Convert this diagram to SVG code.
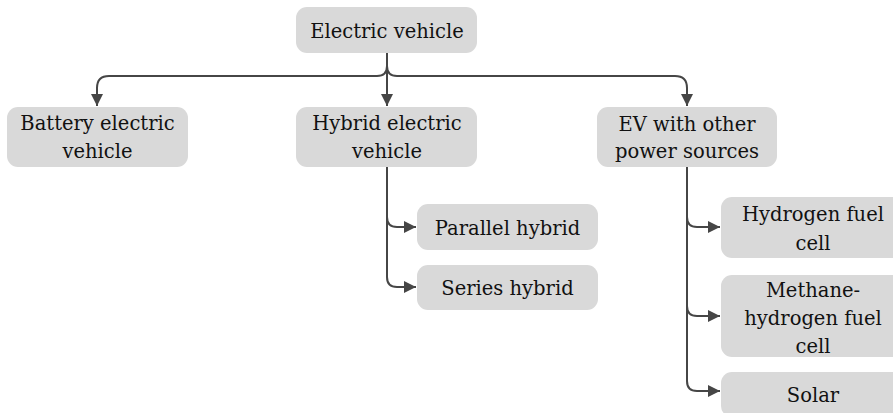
<svg xmlns="http://www.w3.org/2000/svg" width="893" height="413" viewBox="0 0 893 413">
<defs>
<style>
.box{fill:#d9d9d9;}
.t{font-family:"DejaVu Serif","Liberation Serif",serif;font-size:19.5px;fill:#111111;text-anchor:middle;}
.c{fill:none;stroke:#464646;stroke-width:2;}
</style>
<marker id="ah" markerUnits="userSpaceOnUse" markerWidth="14" markerHeight="14" viewBox="0 0 14 14" refX="12" refY="7" orient="auto">
<path d="M0,1 L12,7 L0,13 Z" fill="#464646"/>
</marker>
</defs>
<rect width="893" height="413" fill="#ffffff"/>
<g id="connectors">
<path class="c" d="M387,53 V106" marker-end="url(#ah)"/>
<path class="c" d="M387,53 V66 Q387,76 377,76 H109 Q97,76 97,88 V106" marker-end="url(#ah)"/>
<path class="c" d="M387,53 V66 Q387,76 397,76 H675 Q687,76 687,88 V106" marker-end="url(#ah)"/>
<path class="c" d="M387,167 V217 Q387,227 397,227 H416" marker-end="url(#ah)"/>
<path class="c" d="M387,167 V277 Q387,287 397,287 H416" marker-end="url(#ah)"/>
<path class="c" d="M687,167 V217 Q687,227 697,227 H720" marker-end="url(#ah)"/>
<path class="c" d="M687,167 V306 Q687,316 697,316 H720" marker-end="url(#ah)"/>
<path class="c" d="M687,167 V381 Q687,391 697,391 H720" marker-end="url(#ah)"/>
</g>
<g id="root">
<rect class="box" x="296" y="7" width="181" height="46" rx="11"/>
<text class="t" x="387" y="38">Electric vehicle</text>
</g>
<g id="bev">
<rect class="box" x="7" y="107" width="181" height="60" rx="11"/>
<text class="t" x="97.5" y="130">Battery electric</text>
<text class="t" x="97.5" y="158">vehicle</text>
</g>
<g id="hev">
<rect class="box" x="296" y="107" width="181" height="60" rx="11"/>
<text class="t" x="387" y="130">Hybrid electric</text>
<text class="t" x="387" y="158">vehicle</text>
</g>
<g id="other">
<rect class="box" x="597" y="107" width="180" height="60" rx="11"/>
<text class="t" x="687" y="131">EV with other</text>
<text class="t" x="687" y="158">power sources</text>
</g>
<g id="parallel">
<rect class="box" x="417" y="204" width="181" height="46" rx="11"/>
<text class="t" x="507.5" y="235">Parallel hybrid</text>
</g>
<g id="series">
<rect class="box" x="417" y="265" width="181" height="45" rx="11"/>
<text class="t" x="507.5" y="295">Series hybrid</text>
</g>
<g id="hydrogen">
<rect class="box" x="721" y="197" width="184" height="61" rx="11"/>
<text class="t" x="813" y="221">Hydrogen fuel</text>
<text class="t" x="813" y="250">cell</text>
</g>
<g id="methane">
<rect class="box" x="721" y="275" width="184" height="82" rx="11"/>
<text class="t" x="813" y="297">Methane-</text>
<text class="t" x="813" y="325">hydrogen fuel</text>
<text class="t" x="813" y="353">cell</text>
</g>
<g id="solar">
<rect class="box" x="721" y="372" width="184" height="45" rx="11"/>
<text class="t" x="813" y="402">Solar</text>
</g>
</svg>
